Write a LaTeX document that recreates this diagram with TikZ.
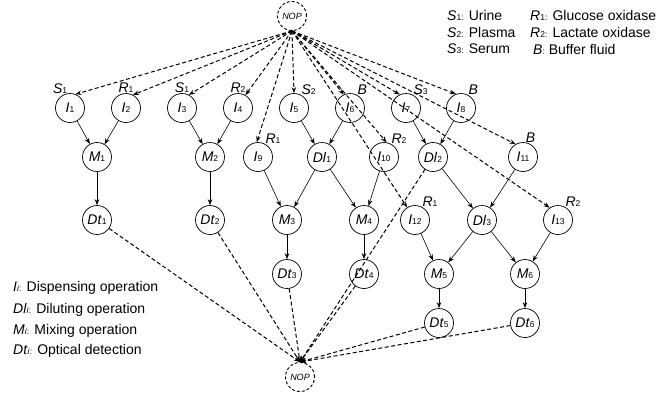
\documentclass[tikz,border=0pt]{standalone}
\usepackage{fontspec}
\setmainfont{Liberation Sans}
\usetikzlibrary{arrows.meta}
\newcommand{\opn}[2]{\textit{#1}{\fontsize{8.5}{9}\selectfont #2}}
\begin{document}
\begin{tikzpicture}[x=1pt,y=-1pt,font=\fontsize{14}{16}\selectfont,
  opnode/.style={circle,draw,line width=0.7pt,minimum size=29pt,inner sep=0pt},
  nopnode/.style={circle,draw,line width=0.9pt,dash pattern=on 3pt off 2pt,minimum size=29pt,inner sep=0pt,font=\fontsize{9}{10}\selectfont\itshape},
  flow/.style={-{Stealth[length=6pt,width=4.5pt]},line width=0.6pt},
  ctrl/.style={-{Stealth[length=6pt,width=4.5pt]},line width=1pt,dash pattern=on 4pt off 2.5pt},
  tag/.style={inner sep=0pt},
  legend/.style={anchor=west,inner sep=0pt,font=\fontsize{14}{16}\selectfont}]
\useasboundingbox (0,0) rectangle (665,392);
\node[nopnode] (nopT) at (292,16) {NOP};
\node[nopnode] (nopB) at (300,377) {NOP};
\node[opnode,label={[tag]100:\opn{S}{1}}] (i1) at (70,108) {\opn{I}{1}};
\node[opnode,label={[tag]above:\opn{R}{1}}] (i2) at (126,108) {\opn{I}{2}};
\node[opnode,label={[tag]above:\opn{S}{1}}] (i3) at (182,108) {\opn{I}{3}};
\node[opnode,label={[tag]above:\opn{R}{2}}] (i4) at (238,108) {\opn{I}{4}};
\node[opnode,label={[tag]60:\opn{S}{2}}] (i5) at (294,108) {\opn{I}{5}};
\node[opnode,label={[tag]60:\opn{B}{}}] (i6) at (350,108) {\opn{I}{6}};
\node[opnode,label={[tag]60:\opn{S}{3}}] (i7) at (406,108) {\opn{I}{7}};
\node[opnode,label={[tag]60:\opn{B}{}}] (i8) at (461,108) {\opn{I}{8}};
\node[opnode] (m1) at (97,157) {\opn{M}{1}};
\node[opnode] (m2) at (210,157) {\opn{M}{2}};
\node[opnode,label={[tag]60:\opn{R}{1}}] (i9) at (258,157) {\opn{I}{9}};
\node[opnode] (dl1) at (322,157) {\opn{Dl}{1}};
\node[opnode,label={[tag]60:\opn{R}{2}}] (i10) at (384,157) {\opn{I}{10}};
\node[opnode] (dl2) at (433,157) {\opn{Dl}{2}};
\node[opnode,label={[tag]80:\opn{B}{}}] (i11) at (523,157) {\opn{I}{11}};
\node[opnode] (dt1) at (97,220) {\opn{Dt}{1}};
\node[opnode] (dt2) at (210,220) {\opn{Dt}{2}};
\node[opnode] (m3) at (287,220) {\opn{M}{3}};
\node[opnode] (m4) at (364,220) {\opn{M}{4}};
\node[opnode,label={[tag]60:\opn{R}{1}}] (i12) at (415,220) {\opn{I}{12}};
\node[opnode] (dl3) at (482,220) {\opn{Dl}{3}};
\node[opnode,label={[tag]60:\opn{R}{2}}] (i13) at (558,220) {\opn{I}{13}};
\node[opnode] (dt3) at (287,274) {\opn{Dt}{3}};
\node[opnode] (dt4) at (364,274) {\opn{Dt}{4}};
\node[opnode] (m5) at (439,274) {\opn{M}{5}};
\node[opnode] (m6) at (525,274) {\opn{M}{6}};
\node[opnode] (dt5) at (439,323) {\opn{Dt}{5}};
\node[opnode] (dt6) at (525,323) {\opn{Dt}{6}};
\draw[ctrl] (nopT.south) -- (i1.68);
\draw[ctrl] (nopT.south) -- (i2.62);
\draw[ctrl] (nopT.south) -- (i3.62);
\draw[ctrl] (nopT.south) -- (i4.60);
\draw[ctrl] (nopT.south) -- (i5.90);
\draw[ctrl] (nopT.south) -- (i6.115);
\draw[ctrl] (nopT.south) -- (i7.115);
\draw[ctrl] (nopT.south) -- (i8.110);
\draw[ctrl] (nopT.south) -- (i9.95);
\draw[ctrl] (nopT.south) -- (i10.80);
\draw[ctrl] (nopT.south) -- (i11.120);
\draw[ctrl] (nopT.south) -- (i12.122);
\draw[ctrl] (nopT.south) -- (i13.124);
\draw[flow] (i1) -- (m1);
\draw[flow] (i2) -- (m1);
\draw[flow] (m1) -- (dt1);
\draw[flow] (i3) -- (m2);
\draw[flow] (i4) -- (m2);
\draw[flow] (m2) -- (dt2);
\draw[flow] (i5) -- (dl1);
\draw[flow] (i6) -- (dl1);
\draw[flow] (i9) -- (m3);
\draw[flow] (dl1) -- (m3);
\draw[flow] (dl1) -- (m4);
\draw[flow] (i10) -- (m4);
\draw[flow] (m3) -- (dt3);
\draw[flow] (m4) -- (dt4);
\draw[flow] (i7) -- (dl2);
\draw[flow] (i8) -- (dl2);
\draw[flow] (dl2) -- (dl3);
\draw[flow] (i11) -- (dl3);
\draw[flow] (i12) -- (m5);
\draw[flow] (dl3) -- (m5);
\draw[flow] (dl3) -- (m6);
\draw[flow] (i13) -- (m6);
\draw[flow] (m5) -- (dt5);
\draw[flow] (m6) -- (dt6);
\draw[ctrl] (dt1) -- (nopB.north);
\draw[ctrl] (dt2) -- (nopB.north);
\draw[ctrl] (dt3) -- (nopB.north);
\draw[ctrl] (dt4) -- (nopB.north);
\draw[ctrl] (dl2) -- (nopB.north);
\draw[ctrl] (dt5) -- (nopB.north);
\draw[ctrl] (dt6) -- (nopB.north);
\node[legend] (s1) at (447,15) {\opn{S}{1:} Urine};
\node[legend] (s2) at (447,32) {\opn{S}{2:} Plasma};
\node[legend] (s3) at (447,49) {\opn{S}{3:} Serum};
\node[legend] (r1) at (530,15) {\opn{R}{1:} Glucose oxidase};
\node[legend] (r2) at (530,32) {\opn{R}{2:} Lactate oxidase};
\node[legend] (bf) at (533,49) {\opn{B}{:} Buffer fluid};
\node[legend] (ki) at (13,288) {\opn{I}{\textit{i}:} Dispensing operation};
\node[legend] (kdl) at (13,310) {\opn{Dl}{\textit{i}:} Diluting operation};
\node[legend] (km) at (13,331) {\opn{M}{\textit{i}:} Mixing operation};
\node[legend] (kdt) at (13,351) {\opn{Dt}{\textit{i}:} Optical detection};
\end{tikzpicture}
\end{document}
